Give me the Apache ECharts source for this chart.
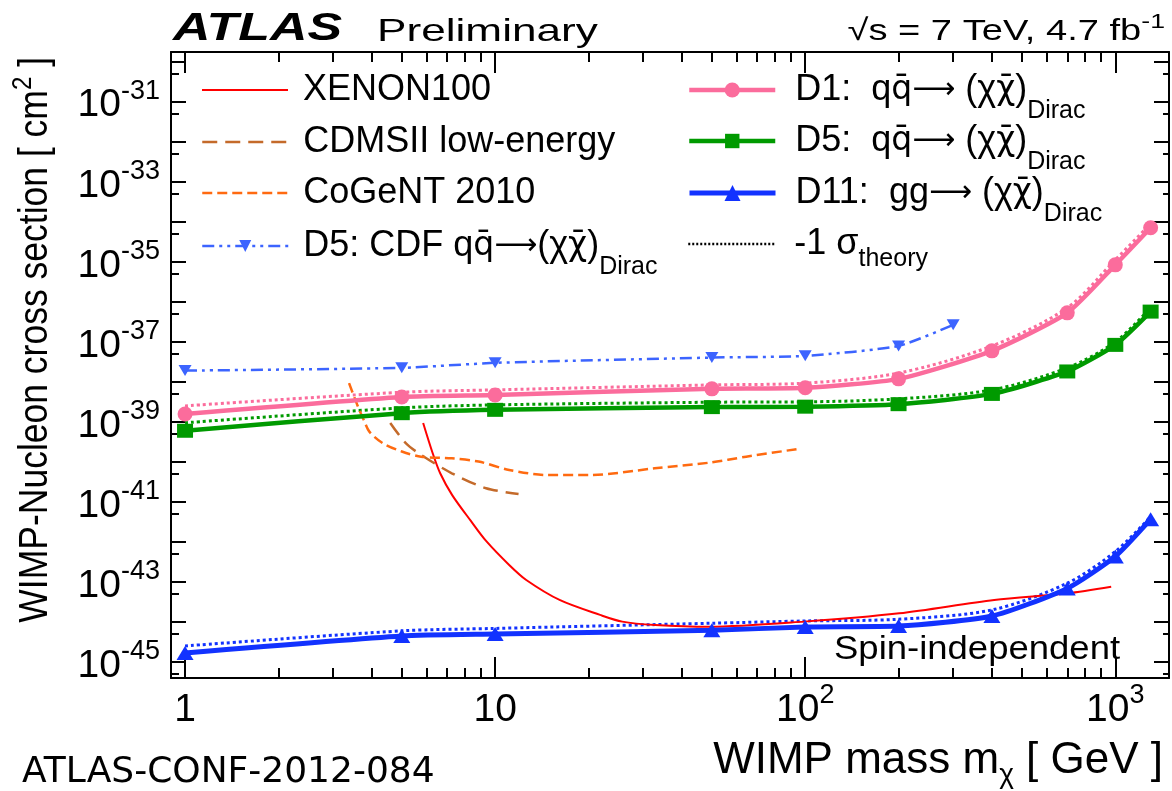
<!DOCTYPE html>
<html>
<head>
<meta charset="utf-8">
<title>WIMP-Nucleon cross section limits</title>
<script src="https://cdn.jsdelivr.net/npm/echarts@6/dist/echarts.min.js"></script>
<style>
  html, body { margin: 0; padding: 0; background: #fff; }
  #chart { width: 1172px; height: 791px; }
</style>
</head>
<body>
<div id="chart"></div>
<script>
// ATLAS limits, computed at these WIMP masses (GeV)
const massPoints = [1, 5, 10, 50, 100, 200, 400, 700, 1000, 1300];
const d1Limit = [1.58e-39, 4.2e-39, 4.7e-39, 6.7e-39, 7.1e-39, 1.19e-38, 5.96e-38, 5.3e-37, 8.4e-36, 7.1e-35];
const d1Minus1Sigma = [2.51e-39, 5.5e-39, 6.3e-39, 8.4e-39, 9.3e-39, 1.66e-38, 7.9e-38, 7.1e-37, 1.12e-35, 8.9e-35];
const d5Limit = [6.0e-40, 1.65e-39, 2.0e-39, 2.34e-39, 2.4e-39, 2.77e-39, 5.0e-39, 1.82e-38, 8.4e-38, 5.7e-37];
const d5Minus1Sigma = [9.5e-40, 2.24e-39, 2.66e-39, 3.1e-39, 3.16e-39, 3.76e-39, 6.3e-39, 2.24e-38, 1.0e-37, 7.1e-37];
const d11Limit = [1.68e-45, 4.47e-45, 5.0e-45, 6.2e-45, 7.5e-45, 7.9e-45, 1.41e-44, 6.9e-44, 4.35e-43, 3.7e-42];
const d11Minus1Sigma = [2.51e-45, 6.0e-45, 6.9e-45, 9.3e-45, 1.06e-44, 1.17e-44, 2.0e-44, 9.3e-44, 5.75e-43, 4.27e-42];

// CDF D5 limit
const cdfMass = [1, 5, 10, 50, 100, 200, 300];
const cdfD5Limit = [1.91e-38, 2.24e-38, 2.99e-38, 4.05e-38, 4.47e-38, 7.9e-38, 2.66e-37];

// direct detection curves
const xenonMass = [5.86, 6.29, 6.65, 7.27, 8.35, 9.35, 11.1, 12.6, 16.2, 21.8, 25.7, 32.8, 49, 99, 201, 407, 700, 970];
const xenonLimit = [9.4e-40, 1.65e-40, 5.2e-41, 1.48e-41, 3.35e-42, 1.06e-42, 2.66e-43, 1.12e-43, 3.5e-44, 1.5e-44, 1.02e-44, 8.4e-45, 7.6e-45, 1.02e-44, 1.65e-44, 3.55e-44, 5.2e-44, 7.6e-44];
const cdmsMass = [4.59, 5.15, 5.77, 7.25, 9.35, 11.9];
const cdmsLimit = [9.4e-40, 2.94e-40, 1.5e-40, 5.2e-41, 2.2e-41, 1.58e-41];
const cogentMass = [3.38, 3.61, 3.77, 3.93, 4.34, 5.0, 5.77, 7.25, 8.84, 11.1, 14.7, 20.2, 32.7, 49.2, 64.5, 94.2];
const cogentLimit = [9.3e-39, 2.42e-39, 1.12e-39, 5.7e-40, 2.94e-40, 1.82e-40, 1.35e-40, 1.23e-40, 1.02e-40, 6.3e-41, 4.7e-41, 4.7e-41, 6.9e-41, 9.6e-41, 1.35e-40, 2.09e-40];

// ticks
const xMajorTicks = [1, 10, 100, 1000];
const xMinorTicks = [2, 3, 4, 5, 6, 7, 8, 9, 20, 30, 40, 50, 60, 70, 80, 90, 200, 300, 400, 500, 600, 700, 800, 900];
const yDecadeExponents = [-45, -44, -43, -42, -41, -40, -39, -38, -37, -36, -35, -34, -33, -32, -31, -30];
const yLabelExponents = [-45, -43, -41, -39, -37, -35, -33, -31];
const yHalfDecadeExponents = [-46, -45, -44, -43, -42, -41, -40, -39, -38, -37, -36, -35, -34, -33, -32, -31]; // 5 x 10^n

// echarts log axis rounds tiny numbers to 0, so sigma is plotted in units of 1e-46 cm2
const UNIT_EXP = -46;
const SIGMA_UNIT = Math.pow(10, UNIT_EXP);
const X_MIN = 0.901, X_MAX = 1490;
const Y_MIN = 3.98e-46, Y_MAX = 1.75e-30;

const FONT = '"Liberation Sans", Arial, Helvetica, sans-serif';
const DEJAVU = '"DejaVu Sans", sans-serif';
const PINK = '#fb6c9c', GREEN = '#009a00', BLUE = '#1232ff', CDF_BLUE = '#3c64ff';
const BROWN = '#c46a2a', ORANGE = '#ff6a10', RED = '#ff0000';

const yMajor = yDecadeExponents.map(e => Math.pow(10, e - UNIT_EXP));
const yLabels = yLabelExponents.map(e => Math.pow(10, e - UNIT_EXP));
const yMinor = yHalfDecadeExponents.map(e => 5 * Math.pow(10, e - UNIT_EXP));

const tickRich = {
  b: { fontSize: 39, fontFamily: FONT, color: '#000', lineHeight: 46, padding: [8, 0, 0, 0] },
  s: { fontSize: 27, fontFamily: FONT, color: '#000', lineHeight: 46, padding: [0, 0, 20, 0] }
};
const AXIS_LINE = { color: '#000', width: 2 };

function logAxis(grid, pos, min, max, ticks, tickLen, showLine, label) {
  return {
    type: 'log', logBase: 10, gridIndex: grid, position: pos, min: min, max: max,
    axisLine: { show: showLine, onZero: false, lineStyle: AXIS_LINE },
    axisTick: { show: true, inside: true, length: tickLen, customValues: ticks, lineStyle: AXIS_LINE },
    axisLabel: label || { show: false },
    splitLine: { show: false },
    minorTick: { show: false }
  };
}

function line(name, xs, ys, opts) {
  return Object.assign({
    name: name, type: 'line', xAxisIndex: 0, yAxisIndex: 0,
    data: xs.map((x, i) => [x, ys[i] / SIGMA_UNIT]),
    symbol: 'none', smooth: 0.3, silent: true
  }, opts);
}

// q-bar, chi-bar and the long arrow come from DejaVu Sans
const QBAR = '{o|q\u0304}', CHIBAR = '{o|\u03c7\u0304}', ARROW = '{a|\u27f6}';
const legendText = {
  'XENON100': '{m|XENON100}',
  'CDMSII low-energy': '{m|CDMSII low-energy}',
  'CoGeNT 2010': '{m|CoGeNT 2010}',
  'D5: CDF': '{m|D5: CDF q}' + QBAR + ARROW + '{m|(\u03c7}' + CHIBAR + '{m|)}{d|Dirac}',
  'D1': '{m|D1:  q}' + QBAR + ARROW + '{m| (\u03c7}' + CHIBAR + '{m|)}{d|Dirac}',
  'D5': '{m|D5:  q}' + QBAR + ARROW + '{m| (\u03c7}' + CHIBAR + '{m|)}{d|Dirac}',
  'D11': '{m|D11:  gg}' + ARROW + '{m| (\u03c7}' + CHIBAR + '{m|)}{d|Dirac}',
  'theory': '{m|-1 \u03c3}{t|theory}'
};
const LEG_LH = 80;
const legendRich = {
  m: { fontSize: 36, fontFamily: FONT, color: '#000', lineHeight: LEG_LH },
  o: { fontSize: 33, fontFamily: DEJAVU, color: '#000', lineHeight: LEG_LH },
  a: { fontSize: 30, fontFamily: DEJAVU, color: '#000', lineHeight: LEG_LH },
  d: { fontSize: 25, fontFamily: FONT, color: '#000', lineHeight: LEG_LH, padding: [42, 0, 0, 0] },
  t: { fontSize: 25, fontFamily: FONT, color: '#000', lineHeight: LEG_LH, padding: [30, 0, 0, 0] }
};

function legendEntry(name, left, yMid, itemHeight, lineWidth, textGap, hideSymbol, extra) {
  return Object.assign({
    data: [name], left: left, top: yMid - LEG_LH / 2, padding: 0, selectedMode: false,
    itemWidth: 86, itemHeight: itemHeight,
    lineStyle: { width: lineWidth },
    itemStyle: hideSymbol ? { opacity: 0 } : {},
    formatter: () => legendText[name],
    textStyle: { color: '#000', fontFamily: FONT, fontSize: 36, lineHeight: LEG_LH, padding: [0, 0, 0, textGap], rich: legendRich }
  }, extra || {});
}

const chart = echarts.init(document.getElementById('chart'));
const gridBox = { left: 171, top: 52, width: 998, height: 626, outerBoundsMode: 'none' };

chart.setOption({
  animation: false,
  backgroundColor: '#fff',
  textStyle: { fontFamily: FONT },
  grid: [0, 1, 2, 3].map(() => Object.assign({}, gridBox)),
  xAxis: [
    logAxis(0, 'bottom', X_MIN, X_MAX, xMajorTicks, 21, true, {
      show: true, customValues: xMajorTicks, margin: 5, color: '#000', fontFamily: FONT, fontSize: 39, rich: tickRich,
      formatter: v => (v < 50 ? '{b|' + Math.round(v) + '}' : '{b|10}{s|' + Math.round(Math.log10(v)) + '}')
    }),
    logAxis(1, 'bottom', X_MIN, X_MAX, xMinorTicks, 10, false),
    logAxis(2, 'top', X_MIN, X_MAX, xMajorTicks, 21, true),
    logAxis(3, 'top', X_MIN, X_MAX, xMinorTicks, 10, false)
  ],
  yAxis: [
    logAxis(0, 'left', Y_MIN / SIGMA_UNIT, Y_MAX / SIGMA_UNIT, yMajor, 15, true, {
      show: true, customValues: yLabels, margin: 11, color: '#000', fontFamily: FONT, fontSize: 39, rich: tickRich,
      formatter: v => '{b|10}{s|' + (Math.round(Math.log10(v)) + UNIT_EXP) + '}'
    }),
    logAxis(1, 'left', Y_MIN / SIGMA_UNIT, Y_MAX / SIGMA_UNIT, yMinor, 8, false),
    logAxis(2, 'right', Y_MIN / SIGMA_UNIT, Y_MAX / SIGMA_UNIT, yMajor, 15, true),
    logAxis(3, 'right', Y_MIN / SIGMA_UNIT, Y_MAX / SIGMA_UNIT, yMinor, 6, false)
  ],
  legend: [
    legendEntry('XENON100', 201, 90, 14, 2, 10, true),
    legendEntry('CDMSII low-energy', 201, 142, 14, 2.5, 10, true),
    legendEntry('CoGeNT 2010', 201, 193, 14, 2.5, 10, true),
    legendEntry('D5: CDF', 201, 246, 15, 2.5, 10, false, { iconRotate: 180 }),
    legendEntry('D1', 687, 90, 19, 4.5, 15, false),
    legendEntry('D5', 687, 141, 18, 4.5, 15, false),
    legendEntry('D11', 687, 193, 20, 5, 15, false),
    legendEntry('theory', 687, 244, 14, 2.5, 15, true)
  ],
  series: [
    // -1 sigma theory variations
    line('D1 -1sigma', massPoints, d1Minus1Sigma, { lineStyle: { color: PINK, width: 3, type: [3, 3] }, itemStyle: { color: PINK }, z: 2 }),
    line('D5 -1sigma', massPoints, d5Minus1Sigma, { lineStyle: { color: GREEN, width: 3, type: [3, 3] }, itemStyle: { color: GREEN }, z: 2 }),
    line('D11 -1sigma', massPoints, d11Minus1Sigma, { lineStyle: { color: BLUE, width: 3, type: [3, 3] }, itemStyle: { color: BLUE }, z: 2 }),
    line('XENON100', xenonMass, xenonLimit, { lineStyle: { color: RED, width: 2 }, itemStyle: { color: RED } }),
    line('CDMSII low-energy', cdmsMass, cdmsLimit, { lineStyle: { color: BROWN, width: 2.5, type: [15, 8] }, itemStyle: { color: BROWN } }),
    line('CoGeNT 2010', cogentMass, cogentLimit, { lineStyle: { color: ORANGE, width: 2.5, type: [10, 5] }, itemStyle: { color: ORANGE } }),
    line('D5: CDF', cdfMass, cdfD5Limit, {
      lineStyle: { color: CDF_BLUE, width: 2.5, type: [12, 5, 3, 5, 3, 5] }, itemStyle: { color: CDF_BLUE, borderWidth: 0 },
      symbol: 'triangle', symbolRotate: 180, symbolSize: [13, 11], smooth: 0.2
    }),
    line('D1', massPoints, d1Limit, {
      lineStyle: { color: PINK, width: 4.5 }, itemStyle: { color: PINK, borderWidth: 0 },
      symbol: 'circle', symbolSize: 15, smooth: 0.2, z: 3
    }),
    line('D5', massPoints, d5Limit, {
      lineStyle: { color: GREEN, width: 4.5 }, itemStyle: { color: GREEN, borderWidth: 0 },
      symbol: 'rect', symbolSize: [16, 14], smooth: 0.2, z: 3
    }),
    line('D11', massPoints, d11Limit, {
      lineStyle: { color: BLUE, width: 5 }, itemStyle: { color: BLUE, borderWidth: 0 },
      symbol: 'triangle', symbolSize: [17, 14], smooth: 0.2, z: 3
    }),
    // legend-only entry for the dotted -1 sigma lines
    { name: 'theory', type: 'line', data: [], symbol: 'none', lineStyle: { color: '#000', width: 2.5, type: [2, 2] }, itemStyle: { color: '#000' } }
  ],
  graphic: [
    { type: 'text', x: 173, y: 29, scaleX: 1.33, style: { text: 'ATLAS', fontFamily: FONT, fontSize: 39, fontWeight: 'bold', fontStyle: 'italic', fill: '#000', align: 'left', verticalAlign: 'middle' } },
    { type: 'text', x: 377, y: 32, scaleX: 1.38, style: { text: 'Preliminary', fontFamily: FONT, fontSize: 32, fill: '#000', align: 'left', verticalAlign: 'middle' } },
    {
      type: 'text', x: 1165, y: 32, scaleX: 1.27,
      style: {
        text: '{m|\u221as = 7 TeV, 4.7 fb}{s|-1}', align: 'right', verticalAlign: 'middle', fill: '#000',
        rich: {
          m: { fontSize: 30, fontFamily: FONT, fill: '#000', lineHeight: 40 },
          s: { fontSize: 21, fontFamily: FONT, fill: '#000', lineHeight: 40, padding: [0, 0, 20, 0] }
        }
      }
    },
    {
      type: 'text', x: 1163, y: 761,
      style: {
        text: '{m|WIMP mass m}{u|\u03c7}{m| [ GeV ]}', align: 'right', verticalAlign: 'middle', fill: '#000',
        rich: {
          m: { fontSize: 44, fontFamily: FONT, fill: '#000', lineHeight: 54 },
          u: { fontSize: 28, fontFamily: FONT, fill: '#000', lineHeight: 54, padding: [28, 0, 0, 0] }
        }
      }
    },
    {
      type: 'text', x: 36, y: 57, rotation: Math.PI / 2, scaleY: 1.15,
      style: {
        text: '{m|WIMP-Nucleon cross section [ cm}{s|2}{m| ]}', align: 'right', verticalAlign: 'middle', fill: '#000',
        rich: {
          m: { fontSize: 35.5, fontFamily: FONT, fill: '#000', lineHeight: 44 },
          s: { fontSize: 24, fontFamily: FONT, fill: '#000', lineHeight: 44, padding: [0, 0, 22, 0] }
        }
      }
    },
    { type: 'text', x: 834, y: 650, scaleX: 1.12, style: { text: 'Spin-independent', fontFamily: FONT, fontSize: 32.6, fill: '#000', align: 'left', verticalAlign: 'middle' } },
    { type: 'text', x: 22, y: 773, style: { text: 'ATLAS-CONF-2012-084', fontFamily: '"DejaVu Sans"', fontSize: 36, fill: '#000', align: 'left', verticalAlign: 'middle' } }
  ]
});
</script>
</body>
</html>
